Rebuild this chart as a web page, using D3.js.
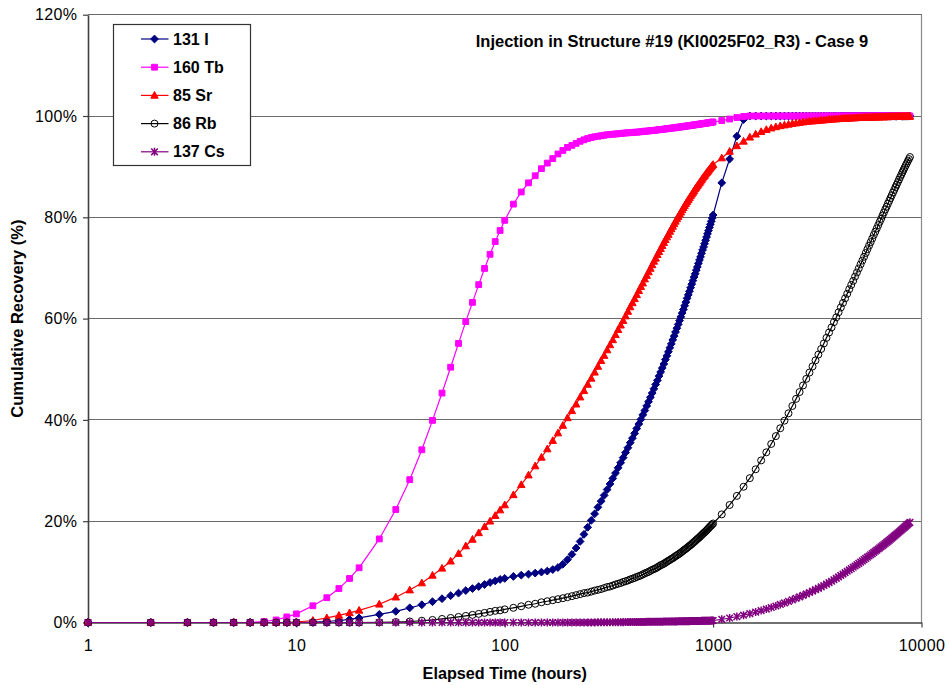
<!DOCTYPE html>
<html>
<head>
<meta charset="utf-8">
<script src="https://cdn.jsdelivr.net/npm/d3@7"></script>
<style>
  html, body { margin: 0; padding: 0; background: #fff; }
  svg { display: block; font-family: "Liberation Sans", Arial, Helvetica, sans-serif; }
</style>
</head>
<body>
<svg id="chart" width="949" height="685"></svg>
<script>
// Elapsed time of each sample (hours)
const hours = [
  1,2,3,4,5,6,7,8,9,10,
  12,14,16,18,20,
  25,30,35,40,45,50,55,60,65,70,75,80,85,90,95,100,
  110,120,130,140,150,160,170,180,190,200,
  210,220,230,240,250,260,270,280,290,300,
  310,320,330,340,350,360,370,380,390,400,
  410,420,430,440,450,460,470,480,490,500,
  510,520,530,540,550,560,570,580,590,600,
  610,620,630,640,650,660,670,680,690,700,
  710,720,730,740,750,760,770,780,790,800,
  810,820,830,840,850,860,870,880,890,900,
  910,920,930,940,950,960,970,980,990,1000,
  1100,1200,1300,1400,1500,1600,1700,1800,1900,2000,
  2100,2200,2300,2400,2500,2600,2700,2800,2900,3000,
  3100,3200,3300,3400,3500,3600,3700,3800,3900,4000,
  4100,4200,4300,4400,4500,4600,4700,4800,4900,5000,
  5100,5200,5300,5400,5500,5600,5700,5800,5900,6000,
  6100,6200,6300,6400,6500,6600,6700,6800,6900,7000,
  7100,7200,7300,7400,7500,7600,7700,7800,7900,8000,
  8100,8200,8300,8400,8500,8600,8700,8800
];

// Cumulative recovery (%) per tracer
const iodine131 = [
  0,0,0,0,0,0,0,0,0,0,
  0.1,0.2,0.4,0.6,0.9,
  1.6,2.2,2.9,3.5,4.1,4.7,5.3,5.8,6.3,6.7,7.1,7.5,7.9,8.2,8.5,8.7,
  9.1,9.35,9.55,9.75,9.95,10.15,10.45,10.85,11.5,12.4,
  13.45,14.7,16.0,17.4,18.8,20.15,21.45,22.75,23.95,25.1,
  26.25,27.35,28.45,29.5,30.55,31.55,32.55,33.55,34.5,35.5,
  36.4,37.35,38.3,39.2,40.1,41.0,41.85,42.75,43.6,44.45,
  45.3,46.15,47.0,47.8,48.65,49.45,50.25,51.05,51.9,52.65,
  53.45,54.25,55.0,55.8,56.55,57.35,58.1,58.85,59.6,60.35,
  61.1,61.8,62.55,63.25,64.0,64.7,65.4,66.1,66.8,67.5,
  68.2,68.85,69.55,70.2,70.9,71.55,72.2,72.9,73.55,74.15,
  74.8,75.45,76.1,76.75,77.35,78.0,78.6,79.2,79.85,80.45,
  86.8,91.5,96.0,99.3,100,100,100,100,100,100,
  100,100,100,100,100,100,100,100,100,100,
  100,100,100,100,100,100,100,100,100,100,
  100,100,100,100,100,100,100,100,100,100,
  100,100,100,100,100,100,100,100,100,100,
  100,100,100,100,100,100,100,100,100,100,
  100,100,100,100,100,100,100,100,100,100,
  100,100,100,100,100,100,100,100
];

const terbium160 = [
  0,0,0,0,0,0,0.2,0.5,1.1,1.7,
  3.3,4.9,6.7,8.7,10.8,
  16.5,22.3,28.2,34.1,39.9,45.3,50.4,55.1,59.4,63.2,66.7,69.9,72.7,75.2,77.4,79.4,
  82.6,85.0,86.8,88.2,89.6,90.7,91.6,92.5,93.2,93.8,
  94.2,94.6,95.0,95.3,95.55,95.75,95.9,96.0,96.1,96.2,
  96.3,96.35,96.4,96.45,96.5,96.55,96.6,96.65,96.7,96.7,
  96.75,96.8,96.8,96.85,96.9,96.95,97.0,97.0,97.05,97.1,
  97.15,97.15,97.2,97.25,97.3,97.35,97.35,97.4,97.45,97.5,
  97.5,97.55,97.6,97.65,97.65,97.7,97.75,97.8,97.8,97.85,
  97.9,97.9,97.95,98.0,98.05,98.05,98.1,98.15,98.15,98.2,
  98.25,98.25,98.3,98.35,98.35,98.4,98.4,98.45,98.5,98.5,
  98.55,98.55,98.6,98.65,98.65,98.7,98.7,98.75,98.8,98.8,
  99.1,99.4,99.7,99.9,100,100,100,100,100,100,
  100,100,100,100,100,100,100,100,100,100,
  100,100,100,100,100,100,100,100,100,100,
  100,100,100,100,100,100,100,100,100,100,
  100,100,100,100,100,100,100,100,100,100,
  100,100,100,100,100,100,100,100,100,100,
  100,100,100,100,100,100,100,100,100,100,
  100,100,100,100,100,100,100,100
];

const strontium85 = [
  0,0,0,0,0,0,0,0,0,0.1,
  0.4,0.9,1.4,1.9,2.4,
  3.6,5.0,6.4,7.8,9.3,10.7,12.1,13.6,15.1,16.4,17.7,18.9,20.0,21.1,22.2,23.2,
  25.2,27.2,29.1,30.9,32.6,34.25,35.9,37.4,38.9,40.4,
  41.8,43.1,44.5,45.75,47.0,48.2,49.4,50.55,51.7,52.7,
  53.8,54.8,55.8,56.8,57.8,58.7,59.6,60.5,61.4,62.3,
  63.1,63.9,64.7,65.5,66.3,67.0,67.8,68.5,69.2,69.9,
  70.6,71.3,71.9,72.6,73.2,73.8,74.4,75.0,75.55,76.1,
  76.6,77.2,77.7,78.2,78.7,79.2,79.7,80.1,80.6,81.0,
  81.45,81.9,82.3,82.7,83.1,83.45,83.8,84.2,84.55,84.9,
  85.2,85.6,85.9,86.2,86.5,86.8,87.1,87.4,87.7,88.0,
  88.2,88.5,88.8,89.0,89.25,89.5,89.7,90.0,90.2,90.4,
  91.7,93.0,94.1,95.0,95.8,96.4,96.9,97.3,97.6,97.85,
  98.05,98.2,98.35,98.5,98.6,98.7,98.8,98.9,98.95,99.0,
  99.05,99.1,99.15,99.2,99.25,99.3,99.35,99.38,99.41,99.44,
  99.47,99.5,99.52,99.54,99.56,99.58,99.6,99.62,99.64,99.66,
  99.67,99.68,99.7,99.71,99.72,99.73,99.74,99.75,99.76,99.77,
  99.78,99.79,99.8,99.81,99.82,99.82,99.83,99.84,99.84,99.85,
  99.85,99.86,99.86,99.87,99.87,99.88,99.88,99.88,99.89,99.89,
  99.89,99.9,99.9,99.9,99.9,99.91,99.91,99.91
];

const rubidium86 = [
  0,0,0,0,0,0,0,0,0,0,
  0,0,0,0,0,
  0.05,0.1,0.2,0.35,0.5,0.7,0.9,1.1,1.3,1.5,1.7,1.9,2.1,2.3,2.4,2.6,
  2.9,3.2,3.5,3.7,4.0,4.2,4.4,4.6,4.8,5.0,
  5.2,5.4,5.6,5.8,5.9,6.1,6.3,6.45,6.6,6.8,
  7.0,7.1,7.3,7.5,7.65,7.8,8.0,8.15,8.3,8.5,
  8.65,8.8,9.0,9.15,9.3,9.5,9.7,9.85,10.0,10.2,
  10.4,10.55,10.7,10.9,11.1,11.3,11.45,11.6,11.8,12.0,
  12.2,12.35,12.55,12.7,12.9,13.1,13.25,13.45,13.6,13.8,
  14.0,14.2,14.4,14.55,14.75,14.95,15.15,15.3,15.5,15.7,
  15.9,16.1,16.3,16.5,16.65,16.85,17.05,17.25,17.45,17.65,
  17.8,18.0,18.2,18.4,18.6,18.8,19.0,19.15,19.35,19.55,
  21.35,23.2,25.0,26.8,28.5,30.25,32.0,33.6,35.25,36.8,
  38.35,39.85,41.3,42.75,44.15,45.5,46.8,48.1,49.35,50.55,
  51.75,52.9,54.0,55.1,56.2,57.25,58.25,59.3,60.25,61.25,
  62.2,63.1,64.0,64.9,65.8,66.65,67.45,68.3,69.1,69.9,
  70.7,71.45,72.2,72.95,73.7,74.4,75.1,75.8,76.5,77.15,
  77.8,78.45,79.1,79.7,80.35,80.95,81.55,82.1,82.7,83.25,
  83.8,84.35,84.9,85.4,85.95,86.45,86.95,87.45,87.95,88.4,
  88.9,89.35,89.8,90.25,90.65,91.1,91.5,91.9
];

const cesium137 = [
  0,0,0,0,0,0,0,0,0,0,
  0,0,0,0,0,
  0,0,0,0,0,0,0,0,0,0,0,0,0,0,0,0,
  0,0,0,0,0,0,0,0,0,0,
  0,0,0,0,0,0.02,0.02,0.03,0.03,0.04,
  0.04,0.05,0.05,0.06,0.06,0.07,0.07,0.08,0.08,0.09,
  0.09,0.1,0.1,0.11,0.11,0.12,0.12,0.13,0.13,0.14,
  0.14,0.15,0.15,0.16,0.16,0.17,0.17,0.18,0.18,0.19,
  0.19,0.2,0.2,0.21,0.21,0.22,0.22,0.23,0.23,0.24,
  0.24,0.25,0.25,0.26,0.26,0.27,0.27,0.28,0.28,0.29,
  0.29,0.3,0.3,0.31,0.31,0.32,0.32,0.33,0.33,0.34,
  0.34,0.35,0.35,0.36,0.36,0.37,0.37,0.38,0.39,0.4,
  0.63,0.89,1.16,1.45,1.75,2.05,2.35,2.65,2.96,3.26,
  3.57,3.87,4.17,4.47,4.77,5.06,5.35,5.64,5.92,6.2,
  6.48,6.75,7.03,7.31,7.59,7.87,8.15,8.44,8.72,9.0,
  9.29,9.56,9.84,10.11,10.38,10.64,10.9,11.16,11.42,11.67,
  11.92,12.17,12.41,12.66,12.9,13.13,13.37,13.6,13.83,14.06,
  14.28,14.51,14.73,14.95,15.17,15.38,15.6,15.81,16.02,16.23,
  16.44,16.65,16.86,17.06,17.27,17.47,17.67,17.87,18.06,18.26,
  18.46,18.65,18.84,19.03,19.22,19.4,19.59,19.77
];

const seriesNames = ["131 I", "160 Tb", "85 Sr", "86 Rb", "137 Cs"];
const xTicks = [1, 10, 100, 1000, 10000];
const yTicks = [0, 20, 40, 60, 80, 100, 120];
const chartTitle = "Injection in Structure #19 (KI0025F02_R3) - Case 9";
const xTitle = "Elapsed Time (hours)";
const yTitle = "Cumulative Recovery (%)";

// Marker shapes, drawn centred on (0,0)
const markerPaths = {
  diamond: "M0,-3.9L3.9,0L0,3.9L-3.9,0Z",
  square: "M-2.9,-2.9H2.9V2.9H-2.9Z",
  triangle: "M0,-3.9L3.7,2.8H-3.7Z",
  circle: "M-3.5,0A3.5,3.5 0 1,0 3.5,0A3.5,3.5 0 1,0 -3.5,0Z",
  star: "M-3.3,-3.3L3.3,3.3M-3.3,3.3L3.3,-3.3M0,-4V4"
};

const series = [
  { name: seriesNames[0], values: iodine131,   color: "#000080", marker: "diamond",  fill: "#000080" },
  { name: seriesNames[1], values: terbium160,  color: "#FF00FF", marker: "square",   fill: "#FF00FF" },
  { name: seriesNames[2], values: strontium85, color: "#FF0000", marker: "triangle", fill: "#FF0000" },
  { name: seriesNames[3], values: rubidium86,  color: "#000000", marker: "circle",   fill: "none" },
  { name: seriesNames[4], values: cesium137,   color: "#800080", marker: "star",     fill: "none" }
];

const W = 949, H = 685;
const plot = { left: 88, right: 921.5, top: 14.7, bottom: 622.5 };

const x = d3.scaleLog().domain([1, 10000]).range([plot.left, plot.right]);
const y = d3.scaleLinear().domain([0, 120]).range([plot.bottom, plot.top]);

const svg = d3.select("#chart");
svg.append("rect").attr("width", W).attr("height", H).attr("fill", "#ffffff");

// Horizontal gridlines
svg.append("g")
  .selectAll("line")
  .data(yTicks.filter(v => v > 0))
  .join("line")
  .attr("x1", plot.left).attr("x2", plot.right)
  .attr("y1", d => y(d)).attr("y2", d => y(d))
  .attr("stroke", "#6a6a6a").attr("stroke-width", 1)
  .attr("shape-rendering", "crispEdges");

// Right edge of the plot area
svg.append("line")
  .attr("x1", plot.right).attr("x2", plot.right)
  .attr("y1", plot.top).attr("y2", plot.bottom)
  .attr("stroke", "#8a8a8a").attr("stroke-width", 1.2);

// Axes
const yAxis = d3.axisLeft(y)
  .tickValues(yTicks)
  .tickFormat(d => d + "%")
  .tickSize(5).tickSizeOuter(0).tickPadding(5.5);

const xAxis = d3.axisBottom(x)
  .tickValues(xTicks)
  .tickFormat(d3.format("d"))
  .tickSize(5).tickSizeOuter(0).tickPadding(12.5);

const gy = svg.append("g").attr("transform", `translate(${plot.left},0)`).call(yAxis);
const gx = svg.append("g").attr("transform", `translate(0,${plot.bottom})`).call(xAxis);

[gx, gy].forEach(g => {
  g.select(".domain").attr("stroke", "#404040").attr("stroke-width", 1.6);
  g.selectAll(".tick line").attr("stroke", "#404040").attr("stroke-width", 1.2);
  g.selectAll(".tick text")
    .attr("fill", "#000")
    .style("font-size", "16px")
    .style("letter-spacing", "0.4px")
    .style("font-family", "\"Liberation Sans\", Arial, sans-serif");
});

// Series: line first, then its markers
const line = d3.line()
  .x((d, i) => x(hours[i]))
  .y(d => y(d));

series.forEach(s => {
  const g = svg.append("g").attr("class", "series");
  g.append("path")
    .datum(s.values)
    .attr("d", line)
    .attr("fill", "none")
    .attr("stroke", s.color)
    .attr("stroke-width", 1.2);
  g.selectAll("path.mk")
    .data(s.values)
    .join("path")
    .attr("class", "mk")
    .attr("transform", (d, i) => `translate(${x(hours[i])},${y(d)})`)
    .attr("d", markerPaths[s.marker])
    .attr("fill", s.fill)
    .attr("stroke", s.color)
    .attr("stroke-width", s.marker === "star" ? 1.5 : 1);
});

// Chart title
svg.append("text")
  .attr("x", 672).attr("y", 47)
  .attr("text-anchor", "middle")
  .style("font-size", "16.5px").style("font-weight", "bold")
  .text(chartTitle);

// Axis titles
svg.append("text")
  .attr("x", (plot.left + plot.right) / 2).attr("y", 679)
  .attr("text-anchor", "middle")
  .style("font-size", "16.2px").style("font-weight", "bold")
  .text(xTitle);

svg.append("text")
  .attr("transform", `translate(23,${(plot.top + plot.bottom) / 2}) rotate(-90)`)
  .attr("text-anchor", "middle")
  .style("font-size", "16.5px").style("font-weight", "bold")
  .text(yTitle);

// Legend
const legend = svg.append("g").attr("transform", "translate(113.5,24.5)");
legend.append("rect")
  .attr("width", 137).attr("height", 141)
  .attr("fill", "#fff").attr("stroke", "#333").attr("stroke-width", 1.2);

series.forEach((s, i) => {
  const cy = 14.5 + i * 28.2;
  const row = legend.append("g").attr("transform", `translate(0,${cy})`);
  row.append("line")
    .attr("x1", 27.5).attr("x2", 55)
    .attr("stroke", s.color).attr("stroke-width", 1.2);
  row.append("path")
    .attr("transform", "translate(41,0)")
    .attr("d", markerPaths[s.marker])
    .attr("fill", s.fill)
    .attr("stroke", s.color)
    .attr("stroke-width", s.marker === "star" ? 1.5 : 1);
  row.append("text")
    .attr("x", 59.5).attr("y", 5.6)
    .style("font-size", "16px").style("font-weight", "bold")
    .text(s.name);
});
</script>
</body>
</html>
